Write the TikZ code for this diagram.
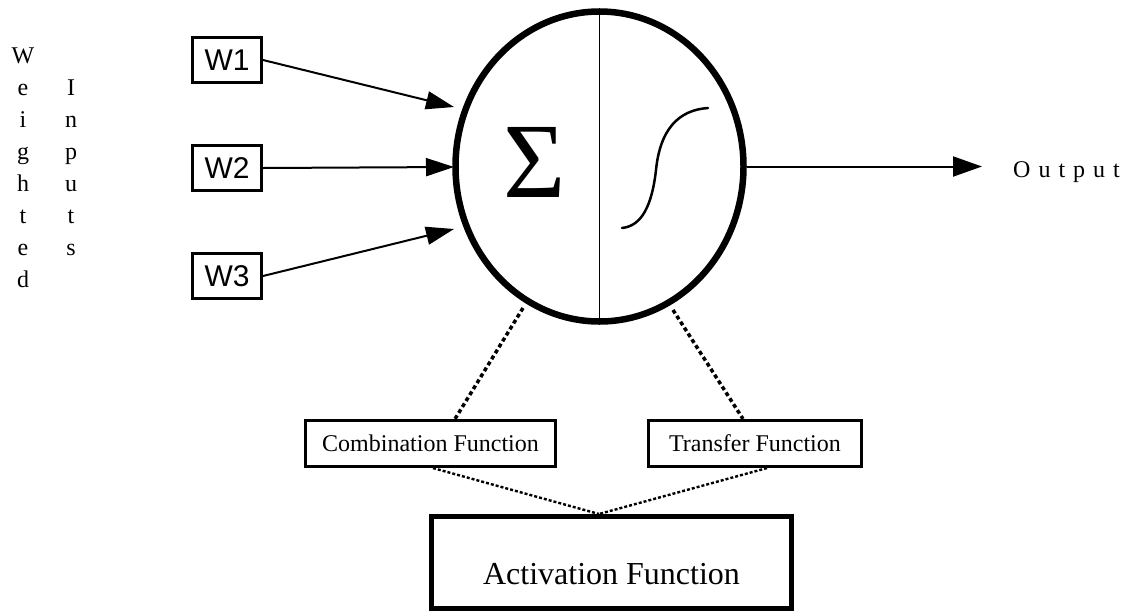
\documentclass[tikz,border=0pt]{standalone}
\usepackage{fontspec}
\setmainfont{Liberation Serif}
\newfontfamily\sansf{Liberation Sans}
\usetikzlibrary{arrows.meta,shapes.geometric}
\begin{document}
\begin{tikzpicture}[x=1pt,y=-1pt,
  wbox/.style={draw, line width=3pt, minimum width=69pt, minimum height=45pt, inner sep=0pt, font=\sansf\fontsize{30}{34}\selectfont},
  fbox/.style={draw, line width=2.6pt, minimum height=46.5pt, inner sep=0pt, font=\fontsize{24}{28}\selectfont},
  inarrow/.style={line width=2pt, -{Triangle[length=28pt,width=18pt]}},
  dotA/.style={line width=3.5pt, dash pattern=on 4pt off 3pt},
  dotB/.style={line width=2.4pt, dash pattern=on 3pt off 2pt},
  letter/.style={anchor=base, inner sep=0pt, font=\fontsize{24}{28}\selectfont},
]
\useasboundingbox (0,0) rectangle (1124,611);

% neuron
\node[draw, ellipse, line width=6.5pt, minimum width=288pt, minimum height=310pt, inner sep=0pt] (neuron) at (599.5,166.5) {};
\draw[line width=1.8pt] (neuron.north) -- (neuron.south);
\node[inner sep=0pt, font=\fontsize{107}{107}\selectfont] (sigma) at (534.5,162.5) {Σ};
\draw[line width=2.5pt, line cap=round] (622,228) .. controls (642,226) and (652,205) .. (656,170) .. controls (660,130) and (678,110) .. (708,108);

% weighted inputs label
\foreach \ch [count=\i from 0] in {W,e,i,g,h,t,e,d}
  \node[letter] (wl\i) at (23,{63+32*\i}) {\ch};
\foreach \ch [count=\i from 0] in {I,n,p,u,t,s}
  \node[letter] (il\i) at (71,{95+32*\i}) {\ch};

% weight boxes
\node[wbox] (w1) at (227,60) {W1};
\node[wbox] (w2) at (227,168) {W2};
\node[wbox] (w3) at (227,276) {W3};
\coordinate (t1) at (454,107);
\coordinate (t2) at (454,167);
\coordinate (t3) at (454,229);
\draw[inarrow] (w1.east) -- (t1);
\draw[inarrow] (w2.east) -- (t2);
\draw[inarrow] (w3.east) -- (t3);

% output
\coordinate (outtip) at (982,166.5);
\draw[line width=2pt, -{Triangle[length=29pt,width=20pt]}] (neuron.east) -- (outtip);
\node[anchor=base west, inner sep=0pt, font=\fontsize{24}{28}\selectfont] (out) at (1013,177) {\spaceskip=8pt O u t p u t};

% function boxes
\node[fbox, minimum width=250.5pt] (comb) at (430.5,443.5) {Combination Function};
\node[fbox, minimum width=213.5pt] (trans) at (755,443.5) {Transfer Function};
\node[draw, line width=5pt, minimum width=360pt, minimum height=91.5pt, inner sep=0pt,
      text height=43.5pt, text depth=0pt, font=\fontsize{32}{36}\selectfont] (act) at (611.5,562.25) {Activation Function};

\coordinate (c1) at (523,308);
\coordinate (c2) at (673,310);
\draw[dotA] (c1) -- ([xshift=24.5pt]comb.north);
\draw[dotA] (c2) -- ([xshift=-12pt]trans.north);
\draw[dotB] ([xshift=2.5pt]comb.south) -- ([xshift=-12.5pt]act.north);
\draw[dotB] ([xshift=12pt]trans.south) -- ([xshift=-12.5pt]act.north);
\end{tikzpicture}
\end{document}
